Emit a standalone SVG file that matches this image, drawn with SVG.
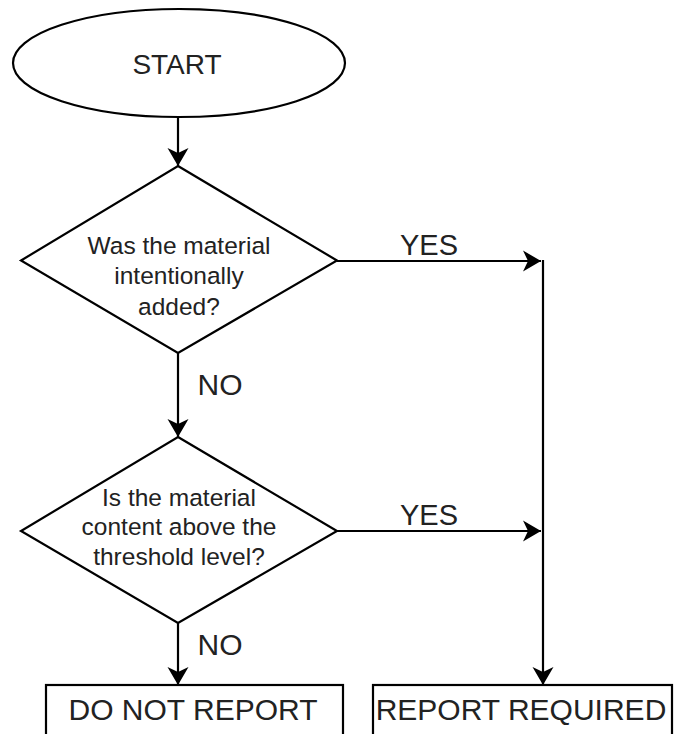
<svg xmlns="http://www.w3.org/2000/svg" width="675" height="734" viewBox="0 0 675 734">
<style>
.shape{fill:#fff;stroke:#000;stroke-width:2.2}
.line{fill:none;stroke:#000;stroke-width:2.2}
.t{font-family:"Liberation Sans",Arial,Helvetica,sans-serif;fill:#222;text-anchor:middle}
.q{font-size:24.5px}
.lbl{font-size:30px}
</style>
<defs>
<marker id="arr" viewBox="-20 -12 22 24" markerWidth="22" markerHeight="24" refX="0" refY="0" orient="auto" markerUnits="userSpaceOnUse">
<path d="M0,0 L-18,-10.5 L-13,0 L-18,10.5 Z" fill="#000"/>
</marker>
</defs>
<rect width="675" height="734" fill="#fff"/>
<g id="connectors">
<line class="line" x1="178" y1="117" x2="178" y2="166" marker-end="url(#arr)"/>
<line class="line" x1="178" y1="353" x2="178" y2="437" marker-end="url(#arr)"/>
<text class="t lbl" x="220" y="395">NO</text>
<line class="line" x1="178" y1="623" x2="178" y2="685" marker-end="url(#arr)"/>
<text class="t lbl" x="220" y="655">NO</text>
<line class="line" x1="337" y1="261" x2="541" y2="261" marker-end="url(#arr)"/>
<text class="t" style="font-size:29px" x="429" y="255">YES</text>
<line class="line" x1="337" y1="531" x2="541" y2="531" marker-end="url(#arr)"/>
<text class="t" style="font-size:29px" x="429" y="525">YES</text>
<line class="line" x1="543" y1="260" x2="543" y2="685" marker-end="url(#arr)"/>
</g>
<g id="start">
<ellipse class="shape" cx="179" cy="63" rx="166" ry="54"/>
<text class="t" style="font-size:28px" x="177" y="74">START</text>
</g>
<g id="decision1">
<polygon class="shape" points="178,166 337,260.5 178,353 21,260.5"/>
<text class="t q" x="179" y="254">Was the material</text>
<text class="t q" x="179" y="284">intentionally</text>
<text class="t q" x="179" y="315">added?</text>
</g>
<g id="decision2">
<polygon class="shape" points="178,437 337,531 178,623 21,531"/>
<text class="t q" x="179" y="506">Is the material</text>
<text class="t q" x="179" y="535">content above the</text>
<text class="t q" x="179" y="565">threshold level?</text>
</g>
<g id="do-not-report">
<rect class="shape" x="46" y="685" width="297" height="60"/>
<text class="t lbl" x="193" y="720">DO NOT REPORT</text>
</g>
<g id="report-required">
<rect class="shape" x="373" y="685" width="299" height="60"/>
<text class="t lbl" x="521" y="720">REPORT REQUIRED</text>
</g>
</svg>
